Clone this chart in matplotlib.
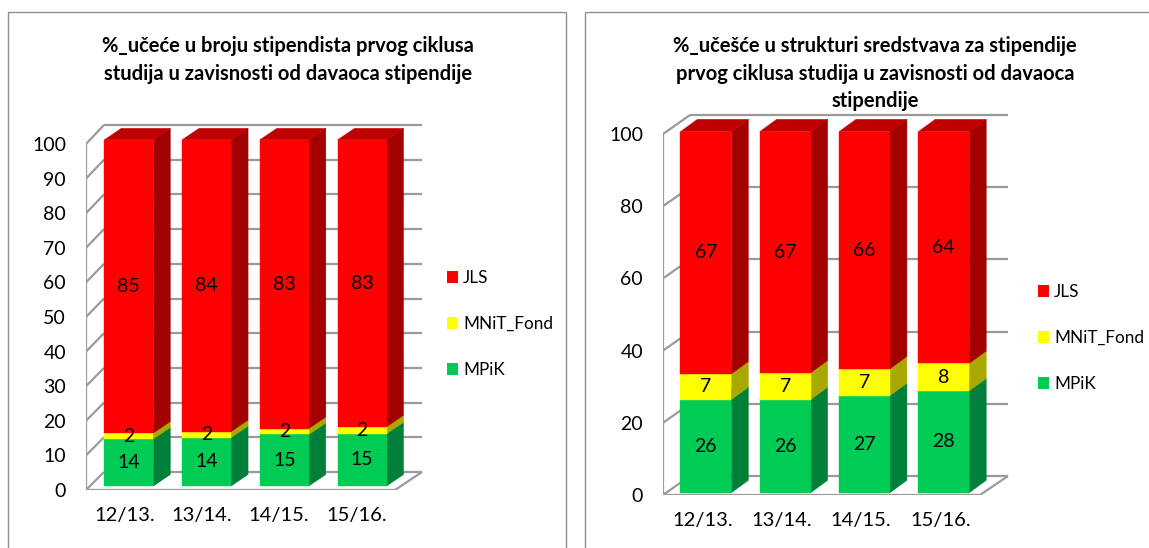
import numpy as np
import matplotlib.pyplot as plt
from matplotlib.patches import Polygon, Rectangle, Patch

W, H, DPI = 1149, 548, 100
plt.rcParams['font.family'] = ['Lato', 'DejaVu Sans']

# ---- data ------------------------------------------------------------------
years = ['12/13.', '13/14.', '14/15.', '15/16.']
names = ['MPiK', 'MNiT_Fond', 'JLS']

# left: share in number of scholarship holders
broj_mpik = [13.6, 14.0, 14.9, 15.1]
broj_mnit = [1.7, 1.7, 1.7, 2.0]
broj_jls = [84.7, 84.3, 83.4, 82.9]

# right: share in the structure of funds
sred_mpik = [25.8, 25.8, 26.9, 28.2]
sred_mnit = [7.1, 7.4, 7.4, 7.6]
sred_jls = [67.1, 66.8, 65.7, 64.2]

title_left = '%_učeće u broju stipendista prvog ciklusa\nstudija u zavisnosti od davaoca stipendije'
title_right = ('%_učešće u strukturi sredstvava za stipendije\n'
               'prvog ciklusa studija u zavisnosti od davaoca\nstipendije')

c_front = ['#00CC55', '#FFFF00', '#FF0000']
c_side = ['#007F3A', '#A8A800', '#A30000']
c_top = ['#00A848', '#CCCC00', '#C00000']
grid_c = '#9a9a9a'

# ---- geometry of the fake 3d box (pixels) ---------------------------------
geo_left = dict(x0=86, x_step=77.25, y0=490, y_unit=3.46,
                bx0=104, bx_step=79.5, by0=472, by_unit=3.47,
                bar_d=0.22, bar_w=49, bar_dx=17, bar_dy=11.5)
geo_right = dict(x0=663, x_step=79.25, y0=495, y_unit=3.61,
                 bx0=690, bx_step=79.5, by0=476, by_unit=3.61,
                 bar_d=0.12, bar_w=51, bar_dx=17, bar_dy=12.4)


def proj(g, c, v, d):
    # point on category c, value v, depth d (0 front, 1 back) -> pixel
    fx = g['x0'] + g['x_step'] * (c + 0.5)
    fy = g['y0'] - g['y_unit'] * v
    bx = g['bx0'] + g['bx_step'] * (c + 0.5)
    by = g['by0'] - g['by_unit'] * v
    return fx + d * (bx - fx), fy + d * (by - fy)


def to_data(g, px, py):
    return (px - g['x0']) / g['x_step'] - 0.5, (g['y0'] - py) / g['y_unit']


def draw_chart(fig, g, series, yticks, title, title_x, legend_x, legend_y):
    pw, ph = 360, 390
    ax = fig.add_axes([g['x0'] / W, 1 - g['y0'] / H, pw / W, ph / H])
    ax.set_xlim(-0.5, -0.5 + pw / g['x_step'])
    ax.set_ylim(0, ph / g['y_unit'])
    for s in ax.spines.values():
        s.set_visible(False)
    ax.patch.set_alpha(0)
    n = len(years)

    def line(p1, p2):
        x1, y1 = to_data(g, *p1)
        x2, y2 = to_data(g, *p2)
        ax.plot([x1, x2], [y1, y2], color=grid_c, lw=1.6, zorder=1,
                solid_capstyle='butt')

    # walls and gridlines
    for v in yticks:
        line(proj(g, -0.5, v, 1), proj(g, n - 0.5, v, 1))
        line(proj(g, -0.5, v, 0), proj(g, -0.5, v, 1))
    line(proj(g, -0.5, 0, 0), proj(g, -0.5, yticks[-1], 0))
    line(proj(g, -0.5, 0, 0), proj(g, n - 0.5, 0, 0))
    line(proj(g, n - 0.5, 0, 0), proj(g, n - 0.5, 0, 1))

    # stacked bars
    hw = g['bar_w'] / 2
    dx, dy = g['bar_dx'], g['bar_dy']
    for i in range(n):
        bottom = 0
        for k, vals in enumerate(series):
            top = bottom + vals[i]
            cx, yb = proj(g, i, bottom, g['bar_d'])
            _, yt = proj(g, i, top, g['bar_d'])
            side = [(cx + hw, yb), (cx + hw + dx, yb - dy),
                    (cx + hw + dx, yt - dy), (cx + hw, yt)]
            lid = [(cx - hw, yt), (cx + hw, yt),
                   (cx + hw + dx, yt - dy), (cx - hw + dx, yt - dy)]
            for pts, col in ((side, c_side[k]), (lid, c_top[k])):
                ax.add_patch(Polygon([to_data(g, *p) for p in pts], closed=True,
                                     fc=col, ec=col, lw=0.3, zorder=3))
            xd, ybd = to_data(g, cx, yb)
            _, ytd = to_data(g, cx, yt)
            ax.bar(xd, ytd - ybd, width=g['bar_w'] / g['x_step'], bottom=ybd,
                   color=c_front[k], edgecolor=c_front[k], lw=0.3, zorder=4)
            lx, ly = to_data(g, *proj(g, i, (bottom + top) / 2, g['bar_d']))
            ax.text(lx, ly, '%.0f' % vals[i], ha='center', va='center',
                    fontsize=14, zorder=10)
            bottom = top

    ax.set_yticks(yticks)
    ax.set_yticklabels([str(v) for v in yticks], fontsize=14)
    ax.set_xticks(range(n))
    ax.set_xticklabels(years, fontsize=14.5)
    ax.tick_params(axis='y', length=0, pad=14.4)
    ax.tick_params(axis='x', length=0, pad=12.5)

    fig.text(title_x / W, 1 - 36 / H, title, ha='center', va='top',
             fontsize=14.5, fontweight='bold', linespacing=1.47)

    handles = [Patch(fc=c_front[k], ec='none', label=names[k]) for k in (2, 1, 0)]
    fig.legend(handles=handles, loc='center left',
               bbox_to_anchor=(legend_x / W, 1 - legend_y / H), frameon=False,
               fontsize=12.3, handlelength=0.65, handleheight=0.65,
               handletextpad=0.3, labelspacing=1.75, borderpad=0,
               borderaxespad=0)
    return ax


fig = plt.figure(figsize=(W / DPI, H / DPI), dpi=DPI)

# panel frames
for x_left, x_right in ((8, 566), (585, 1160)):
    fig.add_artist(Rectangle((x_left / W, -0.05), (x_right - x_left) / W,
                             1 - 12 / H + 0.05, transform=fig.transFigure,
                             fill=False, ec='#8f8f8f', lw=1.0))

draw_chart(fig, geo_left, [broj_mpik, broj_mnit, broj_jls], list(range(0, 101, 10)),
           title_left, 288, 447, 324)
draw_chart(fig, geo_right, [sred_mpik, sred_mnit, sred_jls], list(range(0, 101, 20)),
           title_right, 875, 1038, 338)

fig.savefig('out.png', dpi=DPI)
